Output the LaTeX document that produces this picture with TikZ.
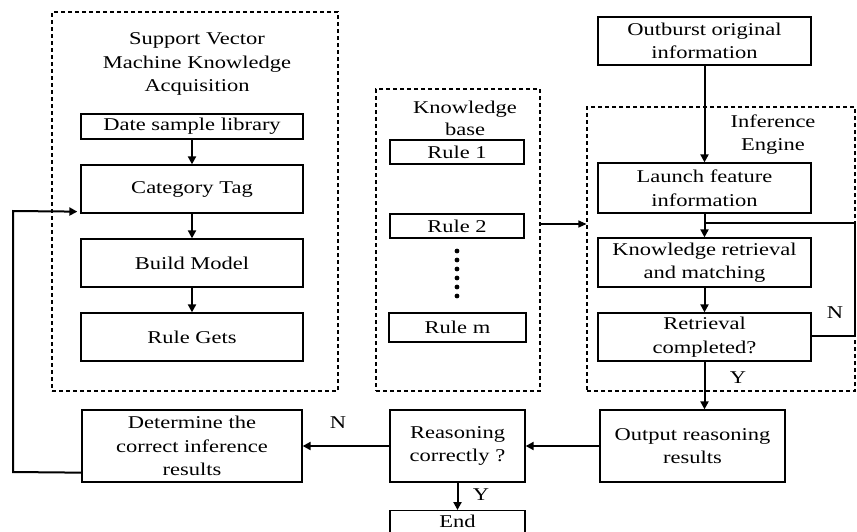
\documentclass[tikz,border=0pt]{standalone}
\usepackage{fontspec}
\setmainfont{Liberation Serif}[FakeStretch=1.25]
\usetikzlibrary{arrows.meta}
\begin{document}
\begin{tikzpicture}[x=1pt,y=-1pt,
  txt/.style={font=\fontsize{18}{23.5}\selectfont, align=center, inner sep=0pt},
  box/.style={txt, draw, line width=1.3pt},
  grp/.style={draw, line width=1.1pt, dash pattern=on 4pt off 3pt, inner sep=0pt},
  arr/.style={line width=2pt, -{Triangle[length=8pt,width=8pt]}},
  thinarr/.style={line width=1.1pt, -{Triangle[length=8pt,width=7pt]}},
  ln/.style={line width=2pt}]
\useasboundingbox (0,0) rectangle (857,531);
% dashed groups
\node[grp, minimum width=286pt, minimum height=379pt] (svm) at (195,201.5) {};
\node[grp, minimum width=164pt, minimum height=302pt] (kb) at (458,240) {};
\node[grp, minimum width=268pt, minimum height=284pt] (ie) at (721,249) {};
% titles
\node[txt] (svmt) at (197,64) {Support Vector\\Machine Knowledge\\Acquisition};
\node[txt, font=\fontsize{18}{22}\selectfont] (kbt) at (465,118.5) {Knowledge\\base};
\node[txt] (iet) at (773,134.5) {Inference\\Engine};
% SVM boxes
\node[box, minimum width=222pt, minimum height=25pt] (date) at (192,126.5) {Date sample library};
\node[box, minimum width=222pt, minimum height=48pt] (cat) at (192,189) {Category Tag};
\node[box, minimum width=222pt, minimum height=48pt] (build) at (192,263) {Build Model};
\node[box, minimum width=222pt, minimum height=48pt] (gets) at (192,337) {Rule Gets};
% KB boxes
\node[box, minimum width=134pt, minimum height=24pt] (rule1) at (457,152) {Rule 1};
\node[box, minimum width=134pt, minimum height=24pt] (rule2) at (457,226) {Rule 2};
\node[box, minimum width=137pt, minimum height=29pt] (rulem) at (457.5,327.5) {Rule m};
\foreach \i in {0,...,5} \fill (457,251+9*\i) circle (2.4pt);
% Inference engine
\node[box, minimum width=213pt, minimum height=48pt] (outb) at (704.5,41) {Outburst original\\information};
\node[box, minimum width=213pt, minimum height=50pt] (launch) at (704.5,188) {Launch feature\\information};
\node[box, minimum width=213pt, minimum height=49pt] (kret) at (704.5,262.5) {Knowledge retrieval\\and matching};
\node[box, minimum width=213pt, minimum height=48pt] (rcomp) at (704.5,337) {Retrieval\\completed?};
% bottom row
\node[box, minimum width=185pt, minimum height=72pt] (output) at (692.5,446) {Output reasoning\\results};
\node[box, minimum width=135pt, minimum height=72pt] (reason) at (457.5,446) {Reasoning\\correctly ?};
\node[box, minimum width=220pt, minimum height=72pt] (determ) at (192,446) {Determine the\\correct inference\\results};
\node[box, minimum width=135pt, minimum height=30pt, anchor=north] (endn) at (457.5,510) {};
\node[txt] (endt) at (457.5,521) {End};
% labels
\node[txt] (n1) at (338,423) {N};
\node[txt] (y1) at (481,495) {Y};
\node[txt] (n2) at (835,313) {N};
\node[txt] (y2) at (738,378) {Y};
% connectors
\draw[arr] (date) -- (cat);
\draw[arr] (cat) -- (build);
\draw[arr] (build) -- (gets);
\draw[arr] (outb) -- (launch);
\draw[arr] (launch) -- (kret);
\draw[arr] (kret) -- (rcomp);
\coordinate (loopA) at (855,336);
\coordinate (loopB) at (855,223);
\coordinate (loopC) at (704.5,223);
\draw[ln] (rcomp.east |- loopA) -- (loopA) -- (loopB) -- (loopC);
\draw[arr] (rcomp.south) -- (rcomp.south |- output.north);
\draw[arr] (output) -- (reason);
\draw[arr] (reason) -- (determ);
\draw[arr] (reason.south) -- (endn.north);
\draw[thinarr] (kb.east |- 0,224) -- (ie.west |- 0,224);
\coordinate (fbA) at (13,472);
\coordinate (fbB) at (13,211);
\draw[arr, shorten >=3pt] ([yshift=10pt]determ.south west) -- (fbA) -- (fbB) -- ([yshift=2pt]cat.south west);
\end{tikzpicture}
\end{document}
